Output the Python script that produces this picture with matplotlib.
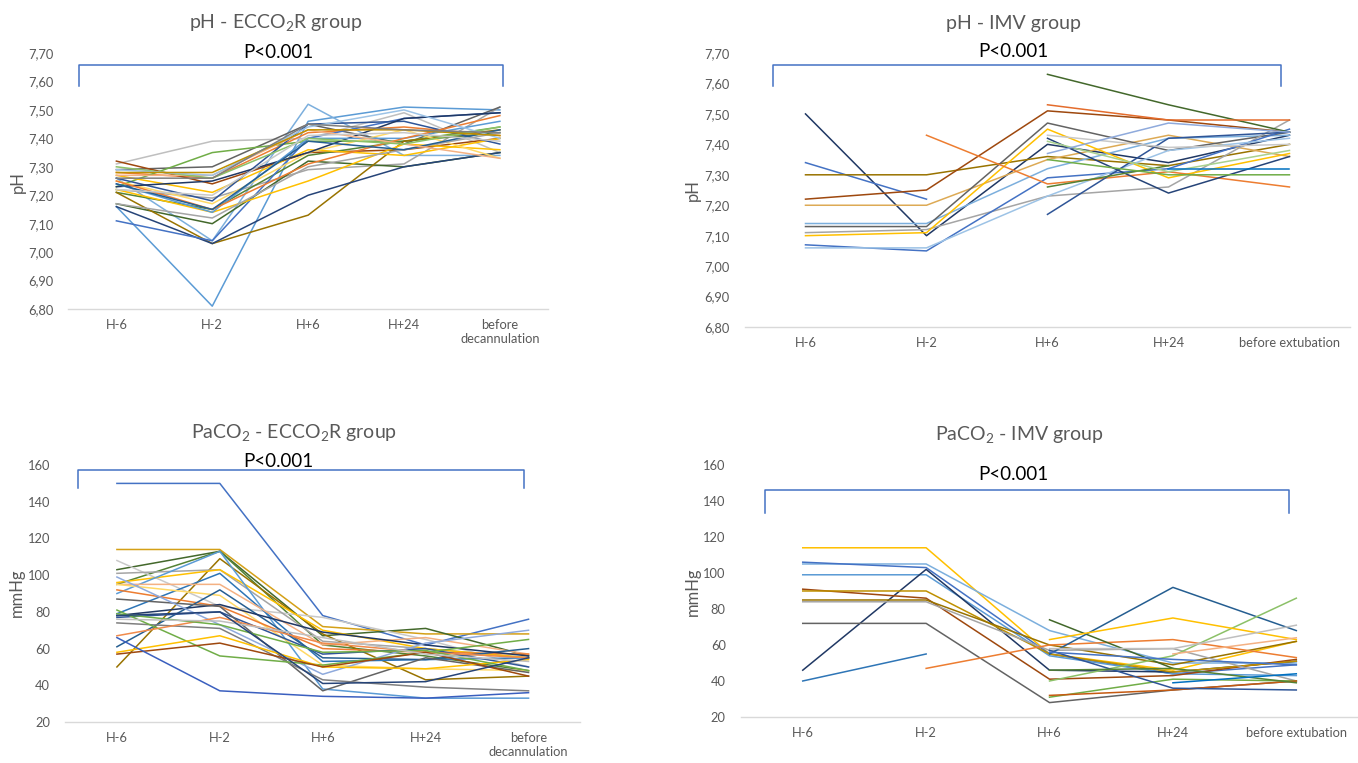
import numpy as np
import matplotlib
matplotlib.use("Agg")
import matplotlib.pyplot as plt

plt.rcParams['font.family'] = ['Lato', 'DejaVu Sans']
plt.rcParams['mathtext.fontset'] = 'custom'
plt.rcParams['mathtext.rm'] = 'Lato'

nan = np.nan
labels_ecco = ["H-6", "H-2", "H+6", "H+24", "before\ndecannulation"]
labels_imv = ["H-6", "H-2", "H+6", "H+24", "before extubation"]

# pH - ECCO2R group
ph_ecco = [
    [7.16, 6.81, 7.46, 7.51, 7.50],
    [7.26, 7.04, 7.52, 7.34, 7.34],
    [7.31, 7.39, 7.40, 7.49, 7.35],
    [7.22, 7.19, 7.29, 7.31, 7.51],
    [7.29, 7.30, 7.45, 7.38, 7.51],
    [7.28, 7.26, 7.42, 7.44, 7.41],
    [7.32, 7.24, 7.35, 7.36, 7.40],
    [7.23, 7.35, 7.39, 7.39, 7.44],
    [7.17, 7.10, 7.32, 7.30, 7.35],
    [7.21, 7.15, 7.34, 7.39, 7.42],
    [7.21, 7.03, 7.13, 7.39, 7.43],
    [7.16, 7.03, 7.20, 7.30, 7.35],
    [7.11, 7.04, 7.40, 7.47, 7.49],
    [7.27, 7.21, 7.36, 7.34, 7.40],
    [7.22, 7.14, 7.25, 7.38, 7.36],
    [7.25, 7.17, 7.35, 7.43, 7.33],
    [7.26, 7.18, 7.45, 7.46, 7.38],
    [7.23, 7.25, 7.35, 7.47, 7.49],
    [7.24, 7.14, 7.40, 7.40, 7.46],
    [7.25, 7.15, 7.31, 7.40, 7.48],
    [7.17, 7.12, 7.30, 7.36, 7.42],
    [7.24, 7.15, 7.39, 7.36, 7.43],
    [7.27, 7.27, 7.43, 7.38, 7.33],
    [7.30, 7.26, 7.40, 7.38, 7.44],
    [7.29, 7.27, 7.44, 7.50, 7.40],
    [7.28, 7.28, 7.43, 7.43, 7.41],
    [7.26, 7.26, 7.45, 7.43, 7.42],
    [7.22, 7.20, 7.41, 7.42, 7.39],
]
ph_ecco_colors = ['#5B9BD5', '#7CAFDD', '#BFBFBF', '#A5A5A5', '#636363', '#ED7D31',
                  '#9E480E', '#70AD47', '#43682B', '#548235', '#997300', '#264478',
                  '#4472C4', '#FFC000', '#FFC000', '#FFD966', '#2F5597', '#203864',
                  '#5B9BD5', '#ED7D31', '#A5A5A5', '#255E91', '#F4B183', '#8CC168',
                  '#9DC3E6', '#BF9000', '#7F7F7F', '#C9C9C9']

# pH - IMV group
ph_imv = [
    [7.50, 7.10, 7.40, 7.34, 7.43],
    [7.34, 7.22, nan, nan, nan],
    [7.30, 7.30, 7.36, 7.33, 7.40],
    [7.22, 7.25, 7.51, 7.48, 7.44],
    [7.20, 7.20, 7.35, 7.43, 7.36],
    [7.14, 7.14, 7.32, 7.42, 7.43],
    [7.13, 7.13, 7.47, 7.38, 7.44],
    [7.11, 7.12, 7.23, 7.26, 7.48],
    [7.10, 7.11, 7.45, 7.29, 7.37],
    [7.07, 7.05, 7.29, 7.32, 7.45],
    [7.06, 7.06, 7.23, 7.38, 7.42],
    [nan, 7.43, 7.27, 7.31, 7.26],
    [nan, nan, 7.63, 7.53, 7.44],
    [nan, nan, 7.53, 7.48, 7.48],
    [nan, nan, 7.17, 7.42, 7.44],
    [nan, nan, 7.42, 7.24, 7.36],
    [nan, nan, 7.26, 7.33, nan],
    [nan, nan, 7.35, 7.30, 7.30],
    [nan, nan, 7.41, 7.31, 7.38],
    [nan, nan, 7.43, 7.39, 7.40],
    [nan, nan, 7.37, 7.47, 7.44],
    [nan, nan, nan, 7.32, 7.32],
]
ph_imv_colors = ['#203864', '#4472C4', '#997300', '#9E480E', '#DDAA55', '#7CAFDD',
                 '#636363', '#A5A5A5', '#FFC000', '#4472C4', '#9DC3E6', '#ED7D31',
                 '#43682B', '#E46C2C', '#2F5597', '#264478', '#548235', '#70AD47',
                 '#A9D18E', '#C9C9C9', '#8FAADC', '#0070C0']

# PaCO2 - ECCO2R group
pa_ecco = [
    [150, 150, 78, 62, 76],
    [114, 114, 72, 68, 68],
    [103, 113, 67, 71, 56],
    [95, 113, 62, 56, 48],
    [50, 109, 68, 43, 45],
    [108, 83, 77, 65, 50],
    [101, 103, 64, 60, 55],
    [96, 103, 70, 60, 55],
    [90, 113, 38, 33, 33],
    [79, 101, 53, 54, 55],
    [95, 95, 62, 66, 57],
    [95, 89, 51, 49, 48],
    [92, 83, 60, 58, 57],
    [61, 92, 55, 54, 60],
    [78, 84, 69, 62, 56],
    [77, 80, 57, 60, 50],
    [87, 83, 37, 55, 47],
    [74, 71, 43, 39, 37],
    [99, 73, 46, 63, 70],
    [81, 56, 51, 58, 65],
    [67, 77, 63, 58, 55],
    [58, 67, 50, 49, 54],
    [57, 63, 50, 58, 45],
    [79, 73, 58, 59, 48],
    [76, 75, 66, 57, 53],
    [66, 37, 34, 33, 36],
    [78, 80, 41, 42, 55],
]
pa_ecco_colors = ['#4472C4', '#D4A017', '#43682B', '#548235', '#997300', '#C9C9C9',
                  '#A5A5A5', '#FFC000', '#5B9BD5', '#2E75B6', '#F4B183', '#FFD966',
                  '#ED7D31', '#255E91', '#203864', '#2F5597', '#636363', '#7F7F7F',
                  '#8FAADC', '#70AD47', '#F08A4B', '#FFC000', '#9E480E', '#70AD47',
                  '#BFBFBF', '#3A5FBF', '#264478']

# PaCO2 - IMV group
pa_imv = [
    [114, 114, 55, 46, 62],
    [105, 105, 68, 50, 50],
    [106, 103, 55, 44, 49],
    [99, 99, 54, 44, 43],
    [46, 102, 46, 45, 51],
    [91, 86, 41, 43, 52],
    [90, 90, 55, 45, 51],
    [85, 85, 60, 49, 62],
    [84, 84, 57, 58, 40],
    [72, 72, 28, 35, 40],
    [40, 55, nan, nan, nan],
    [nan, 47, 60, 63, 53],
    [nan, nan, 74, 47, nan],
    [nan, nan, 55, 92, 68],
    [nan, nan, 40, 54, 86],
    [nan, nan, 63, 75, 63],
    [nan, nan, 58, 58, 71],
    [nan, nan, nan, 55, 64],
    [nan, nan, 31, 41, 40],
    [nan, nan, 32, 35, 40],
    [nan, nan, 57, 36, 35],
    [nan, nan, 46, 47, 39],
    [nan, nan, nan, 39, 44],
    [nan, nan, 56, 52, 49],
]
pa_imv_colors = ['#FFC000', '#7CAFDD', '#4472C4', '#5B9BD5', '#203864', '#9E480E',
                 '#BF9000', '#997300', '#A5A5A5', '#636363', '#2E75B6', '#ED7D31',
                 '#43682B', '#255E91', '#8CC168', '#FFC000', '#BFBFBF', '#F4B183',
                 '#70AD47', '#C55A11', '#2F5597', '#548235', '#0070C0', '#4472C4']

gray = '#595959'
bracket_col = '#4472C4'

fig = plt.figure(figsize=(13.58, 7.63), dpi=100)

panels = [
    # rect, data, colors, labels, ylim, yticks, kind, title, bracket(x0,x1,ytop,ybot), p pos, title pos
    ([0.0504, 0.595, 0.353, 0.3355], ph_ecco, ph_ecco_colors, labels_ecco,
     (6.8, 7.7), np.arange(6.8, 7.71, 0.1), 'ph',
     'pH - ECCO$_\\mathregular{2}$R group', (0.022, 0.906, 0.953, 0.871), (0.437, 1.004), (0.433, 1.117)),
    ([0.5486, 0.5714, 0.4455, 0.3591], ph_imv, ph_imv_colors, labels_imv,
     (6.8, 7.7), np.arange(6.8, 7.71, 0.1), 'ph',
     'pH - IMV group', (0.046, 0.886, 0.956, 0.880), (0.443, 1.004), (0.443, 1.109)),
    ([0.0482, 0.0537, 0.3789, 0.3368], pa_ecco, pa_ecco_colors, labels_ecco,
     (20, 160), np.arange(20, 161, 20), 'pa',
     'PaCO$_\\mathregular{2}$ - ECCO$_\\mathregular{2}$R group', (0.024, 0.891, 0.981, 0.911), (0.413, 1.012), (0.444, 1.125)),
    ([0.5457, 0.0603, 0.4543, 0.3303], pa_imv, pa_imv_colors, labels_imv,
     (20, 160), np.arange(20, 161, 20), 'pa',
     'PaCO$_\\mathregular{2}$ - IMV group', (0.039, 0.888, 0.901, 0.810), (0.441, 0.964), (0.451, 1.119)),
]

for rect, data, cols, labs, ylim, yt, kind, title, br, pp, tp in panels:
    ax = fig.add_axes(rect)
    x = np.arange(len(labs))
    for series, c in zip(data, cols):
        ax.plot(x, series, color=c, lw=1.1)
    ax.set_xlim(-0.5, 4.5)
    ax.set_ylim(*ylim)
    ax.set_yticks(yt)
    if kind == 'ph':
        ax.set_yticklabels([f"{v:.2f}".replace('.', ',') for v in yt])
    else:
        ax.set_yticklabels([f"{v:.0f}" for v in yt])
    ax.set_xticks(x)
    ax.set_xticklabels(labs, linespacing=1.25)
    ax.tick_params(axis='both', length=0, labelsize=9.3, colors=gray)
    ax.tick_params(axis='y', pad=11)
    ax.tick_params(axis='x', pad=7)
    for s in ['top', 'right', 'left']:
        ax.spines[s].set_visible(False)
    ax.spines['bottom'].set_color('#D9D9D9')
    ax.spines['bottom'].set_linewidth(1.0)
    x0, x1, yt0, yb0 = br
    ax.plot([x0, x0, x1, x1], [yb0, yt0, yt0, yb0], color=bracket_col, lw=1.1,
            transform=ax.transAxes, clip_on=False)
    ax.text(pp[0], pp[1], 'P<0.001', transform=ax.transAxes, ha='center', va='center',
            fontsize=13.5, color='black')
    ax.text(tp[0], tp[1], title, transform=ax.transAxes, ha='center', va='center',
            fontsize=14, color=gray)

fig.text(0.013, 0.761, 'pH', rotation=90, ha='center', va='center', fontsize=12, color=gray)
fig.text(0.510, 0.751, 'pH', rotation=90, ha='center', va='center', fontsize=12, color=gray)
fig.text(0.0125, 0.223, 'mmHg', rotation=90, ha='center', va='center', fontsize=12, color=gray)
fig.text(0.510, 0.224, 'mmHg', rotation=90, ha='center', va='center', fontsize=12, color=gray)

fig.savefig('out.png', dpi=100, facecolor='white')
